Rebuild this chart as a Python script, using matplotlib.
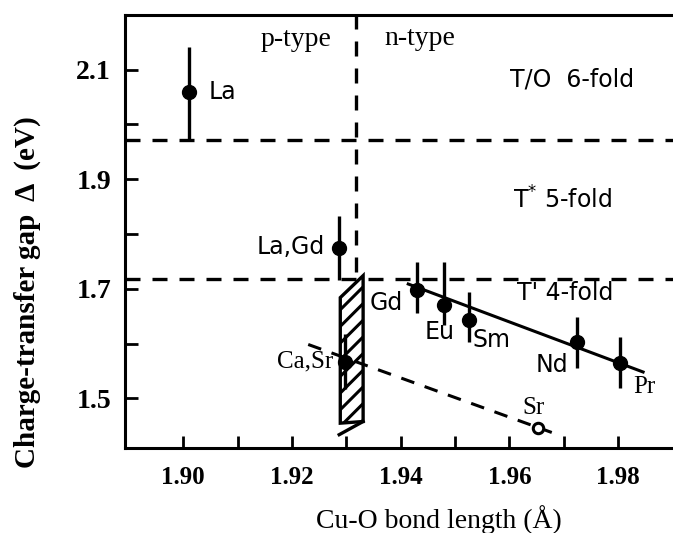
import matplotlib
matplotlib.use("Agg")
import matplotlib.pyplot as plt
from matplotlib.patches import Polygon
import numpy as np

# Cu-O bond length (Å) and charge-transfer gap (eV) for each compound
names = ["La", "La,Gd", "Ca,Sr", "Gd", "Eu", "Sm", "Nd", "Pr"]
bond = [1.9011, 1.9287, 1.9298, 1.9430, 1.9480, 1.9526, 1.9724, 1.9803]
gap = [2.059, 1.774, 1.567, 1.698, 1.671, 1.643, 1.603, 1.565]
err_hi = [0.082, 0.059, 0.05, 0.051, 0.078, 0.051, 0.046, 0.047]
err_lo = [0.088, 0.058, 0.05, 0.042, 0.037, 0.040, 0.047, 0.046]

# Open symbol (Sr-doped)
sr_bond = [1.9653]
sr_gap = [1.446]

# Structure boundaries and p/n boundary
boundary_6_5 = 1.971
boundary_5_4 = 1.718
pn_boundary = 1.9318

# Trend lines (end points)
trend_x = [1.9414, 1.9846]
trend_y = [1.7088, 1.5483]
sr_trend_x = [1.9230, 1.9678]
sr_trend_y = [1.5985, 1.4380]

# Hatched p/n crossover band
band_x = [1.9289, 1.9331, 1.9331, 1.9289]
band_y = [1.684, 1.724, 1.458, 1.455]

xticks_major = [1.90, 1.92, 1.94, 1.96, 1.98]
yticks_major = [1.5, 1.7, 1.9, 2.1]

plt.rcParams["hatch.linewidth"] = 2.2

W, H = 673, 533
fig = plt.figure(figsize=(W / 100, H / 100), dpi=100)
ax_w = (W - 125) / W + 0.01
ax = fig.add_axes([125 / W, 1 - 448 / H, ax_w, (448 - 15) / H])

serif = "Liberation Serif"
sans = "DejaVu Sans"

ax.set_ylim(1.4097, 2.1994)
ax.set_xlim(1.8893, 1.8893 + (1.9901 - 1.8893) * ax_w / ((W - 125) / W))

dash = (0, (4.5, 3.6))
lw = 2.4

ax.axhline(boundary_6_5, color="black", lw=lw, ls=dash, zorder=2)
ax.axhline(boundary_5_4, color="black", lw=lw, ls=dash, zorder=2)
ax.plot([pn_boundary, pn_boundary], [1.731, 2.1994], color="black", lw=lw,
        ls=dash, zorder=2)

# Crossover band
band = Polygon(np.column_stack([band_x, band_y]), closed=True, facecolor="white",
               edgecolor="black", hatch="//", lw=2.4, zorder=3)
ax.add_patch(band)
ax.plot([1.9287, 1.9331], [1.434, 1.458], color="black", lw=2.4, zorder=3)

# Trend lines
ax.plot(trend_x, trend_y, color="black", lw=2.2, zorder=4)
ax.plot(sr_trend_x, sr_trend_y, color="black", lw=2.2, ls=dash, zorder=4)

# Data points with error bars
ax.errorbar(bond, gap, yerr=[err_lo, err_hi], fmt="o", color="black",
            ms=10, elinewidth=2.4, capsize=0, zorder=5)
ax.plot(sr_bond, sr_gap, "o", mfc="white", mec="black", mew=2.2, ms=7.5,
        zorder=6)

# Compound labels
lab_kw = dict(fontsize=17, color="black")
ser_kw = dict(fontsize=18, color="black", family=serif)
ax.text(1.9046, 2.059, "La", family=sans, ha="left", va="center", **lab_kw)
ax.text(1.9261, 1.776, "La,Gd", family=sans, ha="right", va="center", **lab_kw)
ax.text(1.9276, 1.567, "Ca,Sr", ha="right", va="center", **ser_kw)
ax.text(1.9404, 1.674, "Gd", family=sans, ha="right", va="center", **lab_kw)
ax.text(1.9471, 1.621, "Eu", family=sans, ha="center", va="center", **lab_kw)
ax.text(1.9533, 1.607, "Sm", family=sans, ha="left", va="center", **lab_kw)
ax.text(1.9678, 1.561, "Nd", family=sans, ha="center", va="center", **lab_kw)
ax.text(1.9827, 1.521, "Pr", ha="left", va="center", **ser_kw)
ax.text(1.9644, 1.483, "Sr", ha="center", va="center", **ser_kw)

# Region labels
ax.text(1.9208, 2.155, "p-type", ha="center", va="center", family=serif,
        fontsize=20)
ax.text(1.9371, 2.157, "n-type", ha="left", va="center", family=serif,
        fontsize=20)
ax.text(1.9601, 2.081, "T/O  6-fold", family=sans, ha="left", va="center",
        **lab_kw)
ax.text(1.9607, 1.862, r"T$^{*}$ 5-fold", family=sans, ha="left", va="center",
        **lab_kw)
ax.text(1.9614, 1.692, "T' 4-fold", family=sans, ha="left", va="center",
        **lab_kw)

# Axes styling
for side in ("left", "top", "bottom"):
    ax.spines[side].set_linewidth(2.2)
ax.spines["right"].set_visible(False)

ax.set_xticks(xticks_major)
ax.set_xticks(np.arange(1.90, 1.985, 0.01), minor=True)
ax.set_xticklabels([f"{v:.2f}" for v in xticks_major])
ax.set_yticks(yticks_major)
ax.set_yticks(np.arange(1.5, 2.15, 0.1), minor=True)
ax.set_yticklabels([f"{v:.1f}" for v in yticks_major])

ax.tick_params(axis="both", which="both", direction="in", length=9, width=2.0,
               right=False, top=False)
ax.tick_params(axis="x", pad=13)
ax.tick_params(axis="y", pad=10)
for t in ax.get_xticklabels():
    t.set_fontfamily(serif)
    t.set_fontweight("bold")
    t.set_fontsize(18)
for t in ax.get_yticklabels():
    t.set_fontfamily(serif)
    t.set_fontweight("bold")
    t.set_fontsize(20)

ax.set_xlabel("Cu-O bond length (Å)", family=serif, fontsize=20)
ax.xaxis.set_label_coords(0.566, -0.132)
ax.set_ylabel("Charge-transfer gap  Δ  (eV)", family=serif, fontsize=21,
              fontweight="bold")
ax.yaxis.set_label_coords(-0.151, 0.36)

fig.savefig("out.png", dpi=100)
